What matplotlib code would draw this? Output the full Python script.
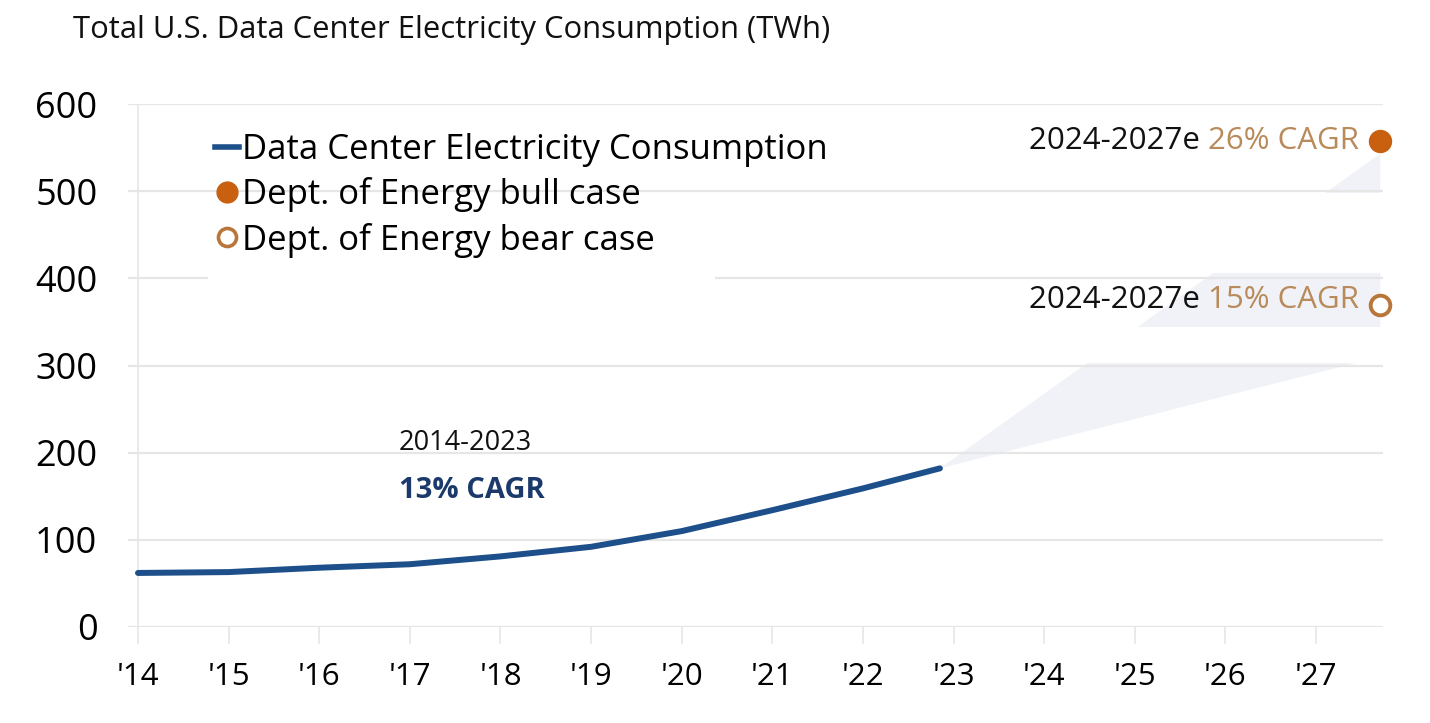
import matplotlib
matplotlib.use("Agg")
import matplotlib.pyplot as plt
from matplotlib.lines import Line2D
from matplotlib.patches import Polygon, Rectangle

# ---- data ----
hist_years = [2014, 2015, 2016, 2017, 2018, 2019, 2020, 2021, 2022, 2022.85]
hist_twh = [62, 63, 68, 72, 81, 92, 110, 134, 159, 182]
bull_year, bull_twh = 2027.71, 558
bear_year, bear_twh = 2027.71, 369
fan_top, fan_bottom = 543, 310
year_ticks = list(range(2014, 2028))
year_labels = ["'" + str(y)[2:] for y in year_ticks]
y_ticks = [0, 100, 200, 300, 400, 500, 600]

NAVY = "#1d4f8a"
ORANGE = "#c8600f"
TAN = "#b98a5a"
GRID = "#e6e6e6"
FONT = "Open Sans"
plt.rcParams['font.family'] = [FONT, 'DejaVu Sans']

fig = plt.figure(figsize=(14.3, 7.23), dpi=100)
ax = fig.add_axes([128/1430, (723-627)/723, (1383-128)/1430, 523/723])
ax.set_xlim(2014 - 10/90.6, 2027.74)
ax.set_ylim(0, 600)

for s in ax.spines.values():
    s.set_visible(False)

# grid
for yv in y_ticks:
    ax.axhline(yv, color=GRID, lw=1.6, zorder=2)
ax.axvline(2014, color=GRID, lw=1.2, zorder=2)

# fan
fan = Polygon([(hist_years[-1], hist_twh[-1]), (bull_year, fan_top), (bear_year, fan_bottom)],
              closed=True, facecolor="#f0f2f7", edgecolor="none", zorder=1)
ax.add_patch(fan)
ax.add_patch(Rectangle((2022.5, 406), 5.5, 92, facecolor="white", edgecolor="none", zorder=1.5))
ax.add_patch(Rectangle((2022.5, 303), 5.5, 41, facecolor="white", edgecolor="none", zorder=1.5))
# white legend background hiding the 400 gridline
ax.add_patch(Rectangle((2014.77, 390), 5.6, 20, facecolor="white", edgecolor="none", zorder=2.5))

# line
ax.plot(hist_years, hist_twh, color=NAVY, lw=4.3, solid_capstyle="round", zorder=4)
ax.scatter([bull_year], [bull_twh], s=250, color=ORANGE, zorder=5, clip_on=False)
ax.scatter([bear_year], [bear_twh], s=200, facecolor="white", edgecolor="#b8763a", linewidth=2.8,
           zorder=5, clip_on=False)

# ticks
ax.set_yticks(y_ticks)
ax.set_yticklabels([str(v) for v in y_ticks], fontsize=26)
ax.tick_params(axis="y", length=0, pad=22)
ax.set_xticks(year_ticks)
ax.set_xticklabels(year_labels, fontsize=22.5)
ax.tick_params(axis="x", length=12, width=1.2, color=GRID, pad=13)

# title
fig.text(73/1430, 1 - 30/723, "Total U.S. Data Center Electricity Consumption (TWh)",
         fontsize=22.3, va="center", ha="left", color="#111111")

# annotations
t1 = ax.text(2027.47, bull_twh, "26% CAGR", color=TAN, fontsize=22.5, ha="right", va="center", zorder=6)
ax.annotate("2024-2027e ", xy=(0, 0), xycoords=t1, ha="right", va="bottom", fontsize=22.5,
            color="#111111", zorder=6)
t2 = ax.text(2027.47, 375, "15% CAGR", color=TAN, fontsize=22.5, ha="right", va="center", zorder=6)
ax.annotate("2024-2027e ", xy=(0, 0), xycoords=t2, ha="right", va="bottom", fontsize=22.5,
            color="#111111", zorder=6)

ax.text(2016.88, 211, "2014-2023", fontsize=19.5, color="#111111", ha="left", va="center")
ax.text(2016.88, 157, "13% CAGR", fontsize=21, fontweight="bold", color="#1b3a6b", ha="left", va="center")

# legend
handles = [
    Line2D([], [], color=NAVY, lw=4),
    Line2D([], [], color=ORANGE, marker="o", linestyle="none", markersize=15),
    Line2D([], [], color="#b8763a", marker="o", markerfacecolor="white", markeredgewidth=2.6,
           linestyle="none", markersize=13),
]
labels = ["Data Center Electricity Consumption", "Dept. of Energy bull case", "Dept. of Energy bear case"]
leg = ax.legend(handles, labels, loc="upper left", bbox_to_anchor=(0.069, 0.945), frameon=False,
                fontsize=25, handlelength=0.7, handletextpad=0.1, labelspacing=0.3,
                borderaxespad=0, borderpad=0)

fig.savefig("out.png", dpi=100, facecolor="white")
